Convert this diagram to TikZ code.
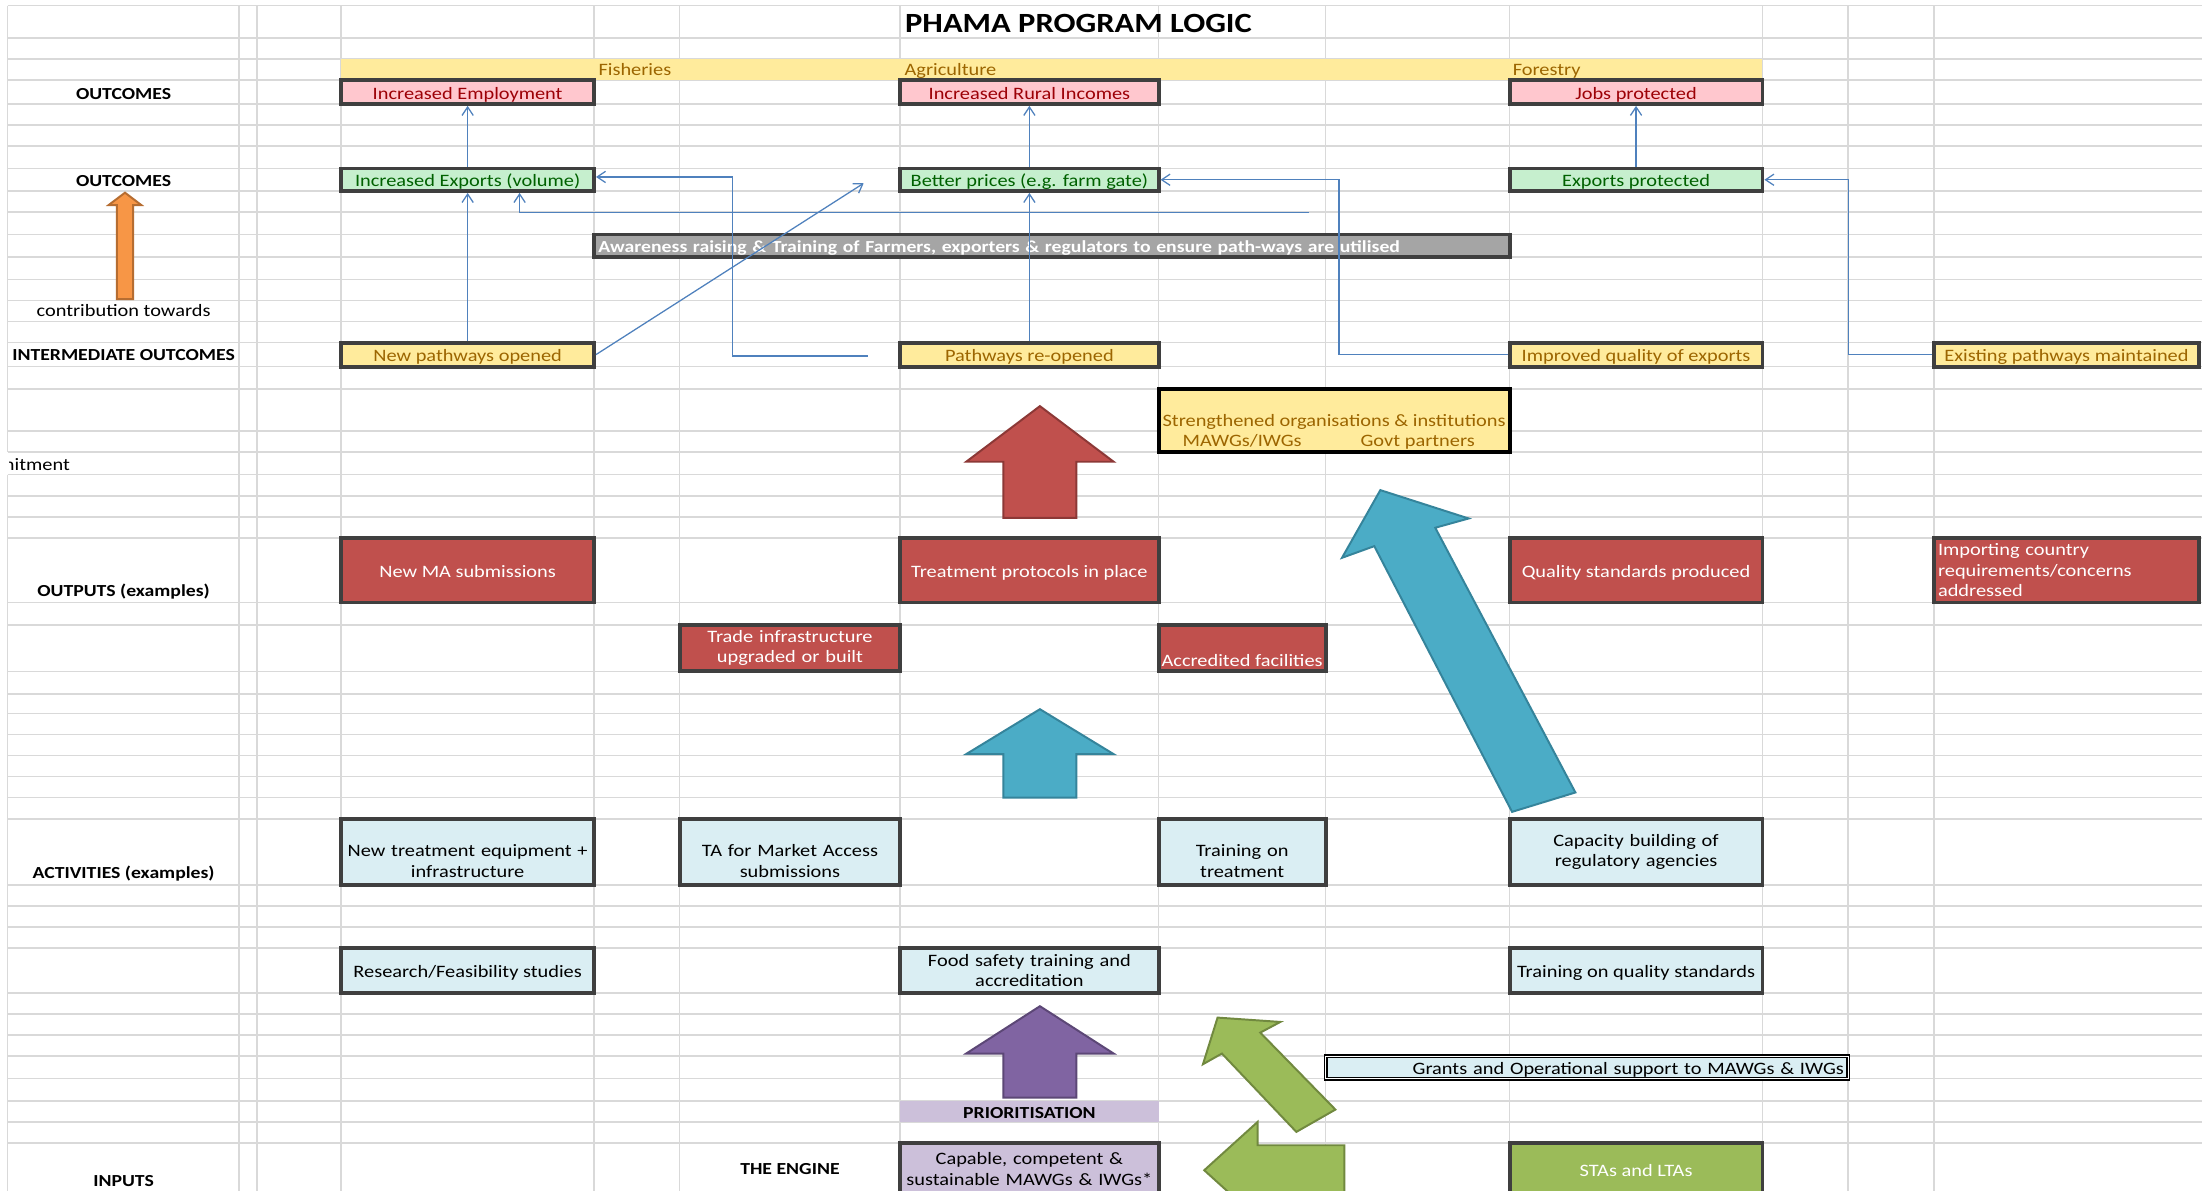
\documentclass[tikz,border=0pt]{standalone}
\usepackage{fontspec}
\setmainfont{Carlito}[FakeStretch=1.17]
\usetikzlibrary{arrows.meta}

\definecolor{gridgrey}{HTML}{D9D9D9}
\definecolor{cellborder}{HTML}{3F3F3F}
\definecolor{neutralfill}{HTML}{FFEB9C}
\definecolor{neutraltext}{HTML}{9C6500}
\definecolor{goodfill}{HTML}{C6EFCE}
\definecolor{goodtext}{HTML}{006100}
\definecolor{badfill}{HTML}{FFC7CE}
\definecolor{badtext}{HTML}{9C0006}
\definecolor{outred}{HTML}{C0504D}
\definecolor{outredline}{HTML}{8C3836}
\definecolor{actblue}{HTML}{DAEEF3}
\definecolor{checkgrey}{HTML}{A5A5A5}
\definecolor{priolilac}{HTML}{CCC0DA}
\definecolor{olivegreen}{HTML}{9BBB59}
\definecolor{olivegreenline}{HTML}{71893F}
\definecolor{tealfill}{HTML}{4BACC6}
\definecolor{tealline}{HTML}{35849B}
\definecolor{purplefill}{HTML}{8064A2}
\definecolor{purpleline}{HTML}{5C4776}
\definecolor{orangefill}{HTML}{F79646}
\definecolor{orangeline}{HTML}{B66D31}
\definecolor{linkblue}{HTML}{4F81BD}

\newcommand{\CellFont}{\fontsize{12.4}{14.5}\selectfont}
\newcommand{\BoldFont}{\fontsize{12.0}{14.5}\selectfont\bfseries}
\newcommand{\BlockUp}[5]{% style, centre x, tip, head base, bottom
  \draw[#1] (#2-52.5,#4) -- (#2,#3) -- (#2+52.5,#4) -- (#2+26,#4)
    -- (#2+26,#5) -- (#2-26,#5) -- (#2-26,#4) -- cycle;}

\tikzset{
    cellspan/.style n args={4}{minimum width={(#2-#1)*1pt}, minimum height={(#4-#3)*1pt},
      at={({(#1+#2)/2},{(#3+#4)/2})}},
    cellbox/.style={rectangle, draw=cellborder, line width=2.8pt, inner sep=1pt},
    oneline/.style={text height=10pt, text depth=0pt},
    lowtwo/.style={text height=24pt, text depth=17pt},
    neutralcell/.style={cellbox, fill=neutralfill, text=neutraltext},
    goodcell/.style={cellbox, fill=goodfill, text=goodtext},
    badcell/.style={cellbox, fill=badfill, text=badtext},
    outputcell/.style={cellbox, fill=outred, text=white},
    activitycell/.style={cellbox, fill=actblue, text=black},
    checkbar/.style={cellbox, fill=checkgrey, text=white, font=\BoldFont},
    rowlabel/.style={anchor=base, font=\BoldFont},
    gridline/.style={draw=gridgrey, line width=1.1pt},
    link/.style={draw=linkblue, line width=0.9pt, -{Straight Barb[length=6pt,width=8pt]}},
    blockarrow/.style={line width=1.4pt, line join=miter},
}

\begin{document}
\begin{tikzpicture}[x=1pt, y=-1pt, font=\CellFont]
    \clip (0,0) rectangle (1568,848);
    \fill[white] (0,0) rectangle (1568,848);

    % sheet grid
    \foreach \gx in {170,183,243,423,484,641,825,944,1075,1255,1316,1377}
      \draw[gridline] (\gx,4) -- (\gx,848);
    \foreach \gy in {4,27,42,57,74,89,104,120,136,151,167,183,199,214,229,244,261,277,307,322,338,353,368,383,429,445,478,494,508,523,538,553,568,583,630,645,660,675,707,722,737,752,768,784,799,814}
      \draw[gridline] (5.5,\gy) -- (1568,\gy);
    \draw[gridline] (5.5,4) -- (5.5,322) (5.5,338) -- (5.5,848);

    \node[anchor=base, font=\fontsize{19.8}{22}\selectfont\bfseries] (title) at (768,22.8) {PHAMA PROGRAM LOGIC};

    % row labels
    \node[rowlabel] (lblOut) at (88,70.5) {OUTCOMES};
    \node[rowlabel] (lblOutB) at (88,133) {OUTCOMES};
    \node[anchor=base] (lblContrib) at (88,225.5) {contribution towards};
    \node[rowlabel] (lblInter) at (88,257) {INTERMEDIATE OUTCOMES};
    \begin{scope}
      \clip (6.5,322) rectangle (170,338);
      \node[anchor=base east, inner sep=0pt] (lblCommit) at (50,335) {nitment};
    \end{scope}
    \node[rowlabel] (lblOutputs) at (88,425) {OUTPUTS (examples)};
    \node[rowlabel] (lblAct) at (88,625.6) {ACTIVITIES (examples)};
    \node[rowlabel] (lblIn) at (88,845.2) {INPUTS};
    \node[rowlabel] (lblEngine) at (562.5,836) {THE ENGINE};

    \draw[blockarrow, fill=orangefill, draw=orangeline] (77.4,146) -- (89,137.2) -- (100.6,146)
      -- (94.8,146) -- (94.8,213) -- (83.2,213) -- (83.2,146) -- cycle;

    % sectors
    \node[fill=neutralfill, inner sep=0pt, cellspan={243}{1255}{42}{57}] (sectors) {};
    \node[anchor=base west, inner sep=0pt, text=neutraltext] (fish) at (426,54) {Fisheries};
    \node[anchor=base west, inner sep=0pt, text=neutraltext] (agri) at (644,54) {Agriculture};
    \node[anchor=base west, inner sep=0pt, text=neutraltext] (forest) at (1077,54) {Forestry};

    % outcomes
    \node[badcell, oneline, cellspan={243}{423}{57}{74}] (empl) {Increased Employment};
    \node[badcell, oneline, cellspan={641}{825}{57}{74}] (rural) {Increased Rural Incomes};
    \node[badcell, oneline, cellspan={1075}{1255}{57}{74}] (jobs) {Jobs protected};
    \node[goodcell, oneline, cellspan={243}{423}{120}{136}] (exports) {Increased Exports (volume)};
    \node[goodcell, oneline, cellspan={641}{825}{120}{136}] (prices) {Better prices (e.g. farm gate)};
    \node[goodcell, oneline, cellspan={1075}{1255}{120}{136}] (expprot) {Exports protected};

    \node[checkbar, oneline, cellspan={423}{1075}{167}{183}, text width=646pt, align=left] (aware)
      {Awareness raising \& Training of Farmers, exporters \& regulators to ensure path-ways are utilised};

    % intermediate outcomes
    \node[neutralcell, oneline, cellspan={243}{423}{244}{261}] (newpath) {New pathways opened};
    \node[neutralcell, oneline, cellspan={641}{825}{244}{261}] (reopen) {Pathways re-opened};
    \node[neutralcell, oneline, cellspan={1075}{1255}{244}{261}] (quality) {Improved quality of exports};
    \node[neutralcell, oneline, cellspan={1377}{1566}{244}{261}] (existing) {Existing pathways maintained};

    \node[neutralcell, draw=black, line width=2.8pt, cellspan={825}{1075}{277}{322}] (strength) {};
    \node[anchor=base, inner sep=0pt, text=neutraltext] (strengthA) at (950,304) {Strengthened organisations \& institutions};
    \node[anchor=base, inner sep=0pt, text=neutraltext] (strengthB) at (884.5,318.2) {MAWGs/IWGs};
    \node[anchor=base, inner sep=0pt, text=neutraltext] (strengthC) at (1009.5,318.2) {Govt partners};

    % outputs
    \node[outputcell, oneline, cellspan={243}{423}{383}{429}] (ma) {New MA submissions};
    \node[outputcell, oneline, cellspan={641}{825}{383}{429}] (protocols) {Treatment protocols in place};
    \node[outputcell, oneline, cellspan={1075}{1255}{383}{429}] (standards) {Quality standards produced};
    \node[outputcell, cellspan={1377}{1566}{383}{429}, text width=183pt, align=left] (importing)
      {Importing country\\requirements/concerns\\addressed};
    \node[outputcell, cellspan={484}{641}{445}{478}, text width=150pt, align=center] (infra)
      {Trade infrastructure\\upgraded or built};
    \node[outputcell, cellspan={825}{944}{445}{478}, text height=25.8pt, text depth=0pt] (accred) {Accredited facilities};

    % activities
    \node[activitycell, lowtwo, cellspan={243}{423}{583}{630}, text width=176pt, align=center] (equip)
      {New treatment equipment +\\infrastructure};
    \node[activitycell, lowtwo, cellspan={484}{641}{583}{630}, text width=153pt, align=center] (ta)
      {TA for Market Access\\submissions};
    \node[activitycell, lowtwo, cellspan={825}{944}{583}{630}, text width=115pt, align=center] (trtrain)
      {Training on\\treatment};
    \node[activitycell, cellspan={1075}{1255}{583}{630}, text width=176pt, align=center] (capacity)
      {Capacity building of\\regulatory agencies};
    \node[activitycell, oneline, cellspan={243}{423}{675}{707}] (research) {Research/Feasibility studies};
    \node[activitycell, cellspan={641}{825}{675}{707}, text width=180pt, align=center] (food)
      {Food safety training and\\accreditation};
    \node[activitycell, oneline, cellspan={1075}{1255}{675}{707}] (qtrain) {Training on quality standards};
    \node[activitycell, oneline, draw=black, line width=1pt, double=white, double distance=0.8pt,
      cellspan={944}{1316}{752}{768}, text width=366pt, align=right] (grants)
      {Grants and Operational support to MAWGs \& IWGs};

    % inputs
    \node[fill=priolilac, oneline, inner sep=1pt, font=\BoldFont, cellspan={641}{825}{784}{799}] (prio) {PRIORITISATION};
    \node[cellbox, fill=priolilac, cellspan={641}{825}{814}{851}, text width=180pt, align=center] (engine)
      {Capable, competent \&\\sustainable MAWGs \& IWGs*};
    \node[cellbox, fill=olivegreen, text=white, oneline, cellspan={1075}{1255}{814}{851}] (stas) {STAs and LTAs};

    % links
    \coordinate (c3) at (615,130.5);
    \coordinate (c4) at (618,253.5);
    \coordinate (c7) at (932,151.2);

    \draw[link] (newpath.north) -- (exports.south);
    \draw[link] (exports.north) -- (empl.south);
    \draw[link] (newpath.east) -- (c3);
    \draw[link] (c4) -| ([xshift=97pt, yshift=2pt]exports.east) -- ([yshift=2pt]exports.east);
    \draw[link] (reopen.north) -- (prices.south);
    \draw[link] (prices.north) -- (rural.south);
    \draw[link] (c7) -| ([xshift=37pt]exports.south);
    \draw[link] (quality.west) -| ([xshift=127pt]prices.east) -- (prices.east);
    \draw[link] (expprot.north) -- (jobs.south);
    \draw[link] (existing.west) -| ([xshift=60pt]expprot.east) -- (expprot.east);

    % block arrows
    \BlockUp{blockarrow, fill=outred, draw=outredline}{740.5}{289.2}{328.8}{368.7}
    \BlockUp{blockarrow, fill=tealfill, draw=tealline}{740.5}{505}{537}{568}
    \BlockUp{blockarrow, fill=purplefill, draw=purpleline}{740.5}{716.5}{750.2}{781.6}

    \draw[blockarrow, fill=tealfill, draw=tealline] (982.9,349) -- (1045.8,369.2) -- (1022,375.8)
      -- (1121.8,564.3) -- (1076.7,578.1) -- (978.6,388.9) -- (955.6,397.2) -- cycle;
    \draw[blockarrow, fill=olivegreen, draw=olivegreenline] (867,724.6) -- (911.7,727.7) -- (897.4,735.3)
      -- (950.9,790.1) -- (923.1,806) -- (870.1,750.2) -- (856.6,757.8) -- cycle;
    \draw[blockarrow, fill=olivegreen, draw=olivegreenline] (857.5,833.3) -- (895.5,798.9) -- (895.5,815.5)
      -- (957.3,815.5) -- (957.3,851.1) -- (895.5,851.1) -- (895.5,867.7) -- cycle;
\end{tikzpicture}
\end{document}
